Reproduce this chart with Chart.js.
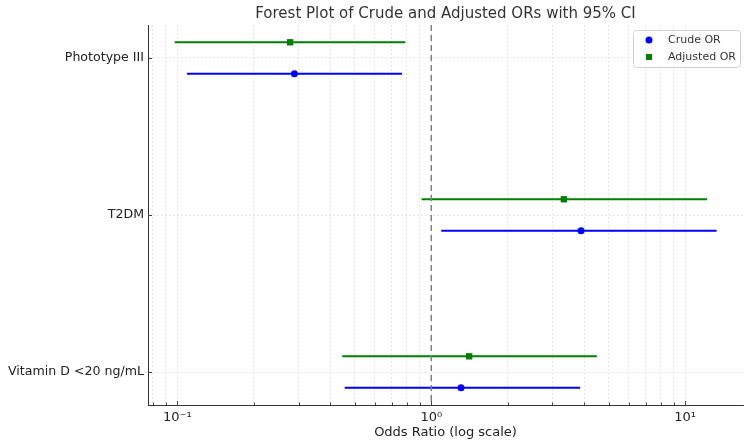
<!DOCTYPE html>
<html lang="en">
<head>
    <meta charset="UTF-8">
    <title>Forest Plot</title>
    <script src="https://cdn.jsdelivr.net/npm/chart.js"></script>
    <style>
        body { margin: 0; padding: 0; background: #ffffff; }
        .chart-container { width: 750px; height: 447px; position: relative; }
    </style>
</head>
<body>
    <div class="chart-container">
        <canvas id="forestChart"></canvas>
    </div>

    <script>
        // Datos (de abajo hacia arriba)
        const categories = ['Vitamin D <20 ng/mL', 'T2DM', 'Phototype III'];
        const crudeOR   = [1.31, 3.89, 0.289];
        const crudeLow  = [0.456, 1.095, 0.109];
        const crudeHigh = [3.86, 13.3, 0.767];
        const adjOR     = [1.41, 3.33, 0.278];
        const adjLow    = [0.446, 0.916, 0.0976];
        const adjHigh   = [4.49, 12.2, 0.79];

        const xTickValues = [0.08, 0.09, 0.1, 0.2, 0.3, 0.4, 0.5, 0.6, 0.7, 0.8, 0.9,
                             1, 2, 3, 4, 5, 6, 7, 8, 9, 10];
        const xTickLabels = { 0.1: '10\u207B\u00B9', 1: '10\u2070', 10: '10\u00B9' };

        const series = [
            { label: 'Crude OR', color: '#0000ff', shape: 'circle', offset: -0.1, or: crudeOR, low: crudeLow, high: crudeHigh },
            { label: 'Adjusted OR', color: '#008000', shape: 'rect', offset: 0.1, or: adjOR, low: adjLow, high: adjHigh }
        ];

        const FONT = "'DejaVu Sans', sans-serif";

        // Barras de intervalo de confianza, línea de referencia, ticks hacia dentro
        const forestPlugin = {
            id: 'forest',
            beforeDatasetsDraw(chart) {
                const { ctx, chartArea } = chart;
                const xs = chart.scales.x, ys = chart.scales.y;
                ctx.save();
                // ticks hacia dentro
                ctx.strokeStyle = '#444444';
                ctx.lineWidth = 1;
                xs.ticks.forEach(t => {
                    const x = Math.round(xs.getPixelForValue(t.value)) + 0.5;
                    const len = xTickLabels[t.value] ? 4 : 2.5;
                    ctx.beginPath();
                    ctx.moveTo(x, chartArea.bottom);
                    ctx.lineTo(x, chartArea.bottom - len);
                    ctx.stroke();
                });
                ys.ticks.forEach(t => {
                    const y = Math.round(ys.getPixelForValue(t.value)) + 0.5;
                    ctx.beginPath();
                    ctx.moveTo(chartArea.left, y);
                    ctx.lineTo(chartArea.left + 4, y);
                    ctx.stroke();
                });
                // intervalos de confianza
                ctx.lineWidth = 2;
                series.forEach(s => {
                    ctx.strokeStyle = s.color;
                    categories.forEach((c, i) => {
                        const y = ys.getPixelForValue(i + s.offset);
                        ctx.beginPath();
                        ctx.moveTo(xs.getPixelForValue(s.low[i]), y);
                        ctx.lineTo(xs.getPixelForValue(s.high[i]), y);
                        ctx.stroke();
                    });
                });
                ctx.restore();
            },
            afterDatasetsDraw(chart) {
                const { ctx, chartArea } = chart;
                const x = chart.scales.x.getPixelForValue(1);
                ctx.save();
                ctx.strokeStyle = '#808080';
                ctx.lineWidth = 1.5;
                ctx.setLineDash([6, 4]);
                ctx.beginPath();
                ctx.moveTo(x, chartArea.top);
                ctx.lineTo(x, chartArea.bottom);
                ctx.stroke();
                ctx.restore();
            },
            afterDraw(chart) {
                const { ctx, chartArea } = chart;
                ctx.save();
                // Título centrado sobre el área del gráfico
                ctx.fillStyle = '#333333';
                ctx.font = '15px ' + FONT;
                ctx.textAlign = 'center';
                ctx.textBaseline = 'middle';
                ctx.fillText('Forest Plot of Crude and Adjusted ORs with 95% CI',
                    (chartArea.left + chartArea.right) / 2, 14);

                // Leyenda
                const bw = 107, bh = 37;
                const bx = chartArea.right - 3 - bw, by = chartArea.top + 5;
                ctx.fillStyle = 'rgba(255,255,255,0.85)';
                ctx.strokeStyle = '#d0d0d0';
                ctx.lineWidth = 1;
                ctx.beginPath();
                ctx.roundRect(bx + 0.5, by + 0.5, bw, bh, 3);
                ctx.fill();
                ctx.stroke();
                ctx.font = '11px ' + FONT;
                ctx.textAlign = 'left';
                series.forEach((s, k) => {
                    const y = by + 10 + k * 17;
                    ctx.fillStyle = s.color;
                    if (s.shape === 'circle') {
                        ctx.beginPath();
                        ctx.arc(bx + 16, y, 3.5, 0, Math.PI * 2);
                        ctx.fill();
                    } else {
                        ctx.fillRect(bx + 13, y - 3, 6, 6);
                    }
                    ctx.fillStyle = '#333333';
                    ctx.fillText(s.label, bx + 35, y);
                });
                ctx.restore();
            }
        };

        const ctx = document.getElementById('forestChart').getContext('2d');
        const forestChart = new Chart(ctx, {
            type: 'scatter',
            data: {
                datasets: series.map(s => ({
                    label: s.label,
                    data: categories.map((c, i) => ({ x: s.or[i], y: i + s.offset })),
                    backgroundColor: s.color,
                    borderColor: s.color,
                    pointStyle: s.shape,
                    pointRadius: s.shape === 'rect' ? 4.5 : 3.5,
                    pointBorderWidth: 0
                }))
            },
            options: {
                responsive: true,
                maintainAspectRatio: false,
                animation: false,
                layout: { padding: { top: 25, right: 7, left: 0, bottom: 0 } },
                scales: {
                    x: {
                        type: 'logarithmic',
                        min: 0.0766,
                        max: 16.9,
                        afterBuildTicks: scale => {
                            scale.ticks = xTickValues.map(v => ({ value: v }));
                        },
                        afterFit: scale => { scale.height = 42; },
                        ticks: {
                            autoSkip: false,
                            maxRotation: 0,
                            padding: 5,
                            color: '#222222',
                            font: { family: FONT, size: 13 },
                            callback: v => xTickLabels[v] || ''
                        },
                        grid: {
                            color: '#e0e0e0',
                            lineWidth: 0.8,
                            drawTicks: false
                        },
                        border: { display: true, color: '#333333', width: 1, dash: [2, 2] },
                        title: {
                            display: true,
                            text: 'Odds Ratio (log scale)',
                            color: '#222222',
                            font: { family: FONT, size: 13 },
                            padding: { top: 4, bottom: 7 }
                        }
                    },
                    y: {
                        type: 'linear',
                        min: -0.21,
                        max: 2.21,
                        afterBuildTicks: scale => {
                            scale.ticks = categories.map((c, i) => ({ value: i }));
                        },
                        afterFit: scale => { scale.width = 148; },
                        ticks: {
                            autoSkip: false,
                            padding: 4,
                            color: '#222222',
                            font: { family: FONT, size: 12.6 },
                            callback: v => categories[v]
                        },
                        grid: {
                            color: '#e0e0e0',
                            lineWidth: 0.8,
                            drawTicks: false
                        },
                        border: { display: true, color: '#333333', width: 1, dash: [2, 2] }
                    }
                },
                plugins: {
                    legend: { display: false },
                    title: { display: false },
                    tooltip: { enabled: false }
                }
            },
            plugins: [forestPlugin]
        });
    </script>
</body>
</html>
